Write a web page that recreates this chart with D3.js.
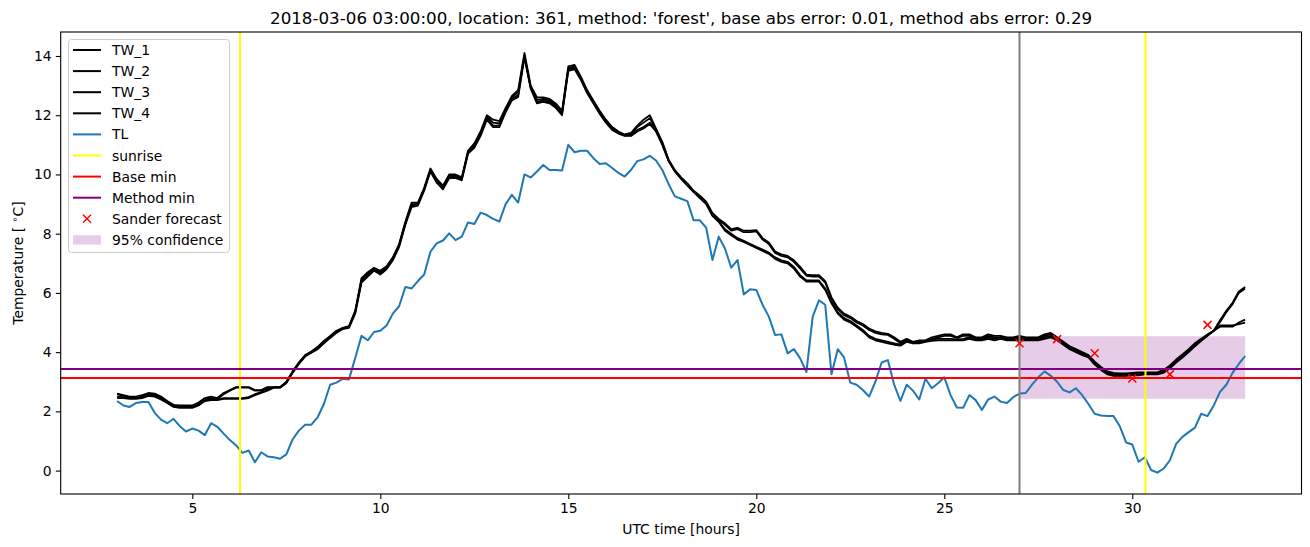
<!DOCTYPE html>
<html><head><meta charset="utf-8">
<script src="https://cdn.jsdelivr.net/npm/d3@7"></script>
<style>body{margin:0;background:#fff} svg{display:block} text{font-family:"DejaVu Sans",sans-serif;fill:#000}</style>
</head><body><svg id="chart" width="1310" height="547"></svg>
<script>
// ---- data (10-minute steps starting at 03:00 UTC, hours) ----
const startHour = 3, stepHours = 1/6;
const TW_1 = [
2.6,2.55,2.5,2.5,2.55,2.62, 2.6,2.5,2.35,2.22,2.2,2.2, 2.2,2.3,2.45,2.5,2.45,2.62,
2.72,2.82,2.82,2.82,2.72,2.72, 2.82,2.82,2.82,3.0,3.35,3.65, 3.9,4.02,4.18,4.38,4.55,4.72,
4.82,4.88,5.4,6.5,6.7,6.85, 6.75,6.9,7.2,7.65,8.4,9.05, 9.05,9.55,10.2,9.85,9.62,10.0,
10.0,9.9,10.8,11.05,11.45,12.0, 11.85,11.8,12.25,12.65,12.85,14.1, 13.0,12.6,12.6,12.55,12.4,12.15,
13.65,13.7,13.3,12.85,12.5,12.15, 11.85,11.6,11.45,11.35,11.4,11.65, 11.85,12.0,11.55,11.1,10.5,10.15,
9.9,9.7,9.45,9.28,9.08,8.7, 8.5,8.35,8.15,8.2,8.1,8.1, 8.12,7.85,7.7,7.4,7.3,7.25,
7.1,6.88,6.62,6.6,6.6,6.4, 5.85,5.5,5.3,5.2,5.05,4.95, 4.8,4.7,4.65,4.62,4.5,4.35,
4.45,4.35,4.4,4.4,4.5,4.55, 4.6,4.6,4.5,4.6,4.6,4.5, 4.5,4.6,4.55,4.55,4.5,4.5,
4.55,4.5,4.5,4.5,4.6,4.65, 4.5,4.35,4.2,4.1,4.0,3.9, 3.68,3.5,3.35,3.3,3.28,3.28,
3.3,3.32,3.32,3.32,3.32,3.4, 3.55,3.75,3.92,4.1,4.3,4.45, 4.6,4.72,5.08,5.4,5.67,6.05, 6.2];
const TW_2 = [
2.58,2.52,2.48,2.45,2.5,2.6, 2.55,2.45,2.32,2.2,2.15,2.15, 2.15,2.25,2.42,2.45,2.42,2.58,
2.7,2.8,2.8,2.8,2.7,2.7, 2.8,2.8,2.8,2.98,3.32,3.62, 3.88,4.0,4.15,4.35,4.52,4.7,
4.8,4.85,5.35,6.45,6.65,6.8, 6.7,6.85,7.15,7.6,8.35,9.0, 9.0,9.5,10.15,9.8,9.58,9.95,
9.95,9.85,10.75,11.0,11.4,11.95, 11.75,11.72,12.2,12.6,12.78,14.02, 12.95,12.52,12.55,12.5,12.35,12.1,
13.58,13.65,13.25,12.8,12.45,12.1, 11.8,11.55,11.42,11.32,11.35,11.6, 11.75,11.9,11.5,11.05,10.48,10.12,
9.88,9.66,9.42,9.25,9.05,8.65, 8.45,8.3,8.1,8.15,8.05,8.05, 8.08,7.8,7.65,7.35,7.25,7.2,
7.05,6.82,6.58,6.55,6.55,6.35, 5.8,5.45,5.25,5.15,5.0,4.9, 4.75,4.65,4.6,4.58,4.45,4.3,
4.4,4.3,4.35,4.38,4.45,4.5, 4.55,4.55,4.48,4.55,4.55,4.48, 4.45,4.55,4.5,4.5,4.45,4.45,
4.5,4.45,4.45,4.45,4.55,4.6, 4.45,4.3,4.15,4.05,3.95,3.88, 3.65,3.45,3.3,3.25,3.25,3.25,
3.28,3.3,3.3,3.3,3.3,3.38, 3.52,3.72,3.9,4.05,4.25,4.42, 4.58,4.72,5.02,5.35,5.62,6.0, 6.15];
const TW_3 = [
2.5,2.48,2.45,2.45,2.48,2.55, 2.52,2.42,2.3,2.18,2.15,2.15, 2.15,2.22,2.38,2.4,2.4,2.45,
2.45,2.45,2.45,2.48,2.58,2.65, 2.75,2.82,2.82,2.97,3.32,3.62, 3.88,4.0,4.12,4.32,4.5,4.68,
4.8,4.85,5.35,6.4,6.6,6.8, 6.68,6.85,7.15,7.6,8.35,8.95, 9.0,9.5,10.15,9.78,9.55,9.92,
9.92,9.85,10.75,10.95,11.35,11.9, 11.65,11.65,12.15,12.55,12.68,14.0, 12.92,12.45,12.5,12.45,12.3,12.05,
13.55,13.6,13.22,12.78,12.42,12.08, 11.78,11.52,11.4,11.32,11.32,11.5, 11.6,11.75,11.48,11.02,10.47,10.12,
9.87,9.65,9.42,9.22,9.02,8.62, 8.42,8.15,8.0,7.85,7.76,7.66, 7.56,7.46,7.36,7.2,7.1,7.05,
6.88,6.6,6.42,6.42,6.42,6.15, 5.7,5.35,5.15,5.05,4.9,4.75, 4.55,4.45,4.4,4.35,4.3,4.25,
4.38,4.33,4.33,4.38,4.42,4.45, 4.45,4.45,4.43,4.45,4.5,4.43, 4.43,4.5,4.45,4.5,4.43,4.43,
4.45,4.43,4.43,4.43,4.5,4.55, 4.43,4.28,4.12,4.02,3.92,3.85, 3.62,3.42,3.28,3.22,3.22,3.22,
3.25,3.25,3.28,3.28,3.28,3.35, 3.5,3.7,3.85,4.03,4.22,4.4, 4.57,4.72,4.9,4.9,4.9,4.95, 5.0];
const TW_4 = [
2.45,2.45,2.42,2.42,2.45,2.52, 2.5,2.4,2.28,2.15,2.12,2.12, 2.12,2.2,2.35,2.38,2.38,2.42,
2.42,2.42,2.42,2.45,2.55,2.62, 2.7,2.8,2.8,2.95,3.3,3.6, 3.85,3.98,4.1,4.3,4.48,4.65,
4.78,4.82,5.3,6.35,6.55,6.75, 6.62,6.8,7.1,7.55,8.3,8.9, 8.95,9.45,10.1,9.72,9.5,9.88,
9.88,9.8,10.7,10.9,11.3,11.85, 11.6,11.6,12.1,12.5,12.62,13.95, 12.9,12.4,12.45,12.4,12.25,12.0,
13.5,13.55,13.2,12.75,12.4,12.05, 11.75,11.5,11.38,11.3,11.3,11.45, 11.55,11.7,11.45,11.0,10.45,10.1,
9.85,9.62,9.4,9.2,9.0,8.6, 8.4,8.1,7.95,7.8,7.72,7.62, 7.52,7.42,7.32,7.15,7.05,7.0,
6.82,6.55,6.38,6.38,6.38,6.1, 5.65,5.3,5.1,5.0,4.86,4.7, 4.5,4.4,4.35,4.3,4.25,4.22,
4.35,4.3,4.3,4.35,4.38,4.4, 4.4,4.4,4.4,4.4,4.45,4.4, 4.4,4.45,4.4,4.45,4.4,4.4,
4.4,4.4,4.4,4.4,4.45,4.5, 4.4,4.25,4.1,4.0,3.9,3.82, 3.58,3.4,3.25,3.2,3.2,3.2,
3.22,3.22,3.25,3.25,3.25,3.3, 3.45,3.65,3.82,4.0,4.2,4.38, 4.55,4.72,4.86,4.86,4.86,5.0, 5.1];
const TL = [
2.35,2.2,2.15,2.28,2.32,2.32, 1.95,1.72,1.6,1.75,1.5,1.32, 1.42,1.35,1.2,1.6,1.48,1.25,
1.03,0.85,0.6,0.68,0.28,0.62, 0.48,0.45,0.4,0.55,1.05,1.35, 1.55,1.55,1.8,2.25,2.9,2.97,
3.1,3.08,3.8,4.55,4.4,4.68, 4.72,4.9,5.3,5.55,6.2,6.15, 6.4,6.62,7.39,7.67,7.77,8.01,
7.78,7.9,8.38,8.33,8.71,8.63, 8.5,8.41,9.0,9.31,9.05,10.0, 9.9,10.1,10.32,10.15,10.15,10.13,
11.0,10.75,10.8,10.8,10.55,10.35, 10.38,10.22,10.05,9.93,10.15,10.45, 10.51,10.63,10.47,10.15,9.68,9.26,
9.18,9.1,8.45,8.45,8.2,7.11, 7.9,7.5,6.85,7.11,5.95,6.12, 6.1,5.6,5.2,4.58,4.6,3.96,
4.1,3.79,3.33,5.2,5.75,5.6, 3.25,4.1,3.82,2.97,2.9,2.72, 2.5,3.0,3.65,3.73,2.9,2.35,
2.9,2.7,2.4,3.1,2.78,2.95, 3.15,2.55,2.13,2.12,2.55,2.38, 2.05,2.4,2.5,2.33,2.28,2.48,
2.6,2.62,2.9,3.15,3.35,3.2, 3.0,2.72,2.64,2.78,2.55,2.25, 1.92,1.86,1.84,1.84,1.5,0.95,
0.88,0.3,0.45,0.02,-0.07,0.07, 0.35,0.9,1.14,1.3,1.45,1.92, 1.84,2.2,2.66,2.9,3.3,3.6, 3.87];

const sunriseHours = [6.27, 30.35];
const forecastStartHour = 27.0;
const baseMin = 3.13;
const methodMin = 3.43;
const forecastHours = [27, 28, 29, 30, 31, 32];
const forecastValues = [4.30, 4.44, 3.96, 3.11, 3.25, 4.92];
const confHours = [27, 33];
const confLow = [2.43, 2.43];
const confHigh = [4.54, 4.54];
const xTicks = [5, 10, 15, 20, 25, 30];
const yTicks = [0, 2, 4, 6, 8, 10, 12, 14];
const legendLabels = ["TW_1","TW_2","TW_3","TW_4","TL","sunrise","Base min","Method min","Sander forecast","95% confidence"];
const titleText = "2018-03-06 03:00:00, location: 361, method: 'forest', base abs error: 0.01, method abs error: 0.29";

// ---- chart ----
const svg = d3.select("#chart");
const L = 60.7, R = 1301.5, T = 32, B = 494;
const x = d3.scaleLinear().domain([1.5, 34.5]).range([L, R]);
const y = d3.scaleLinear().domain([-0.79, 14.81]).range([B, T]);
const hourAt = i => startHour + i * stepHours;

svg.append("rect").attr("width", 1310).attr("height", 547).attr("fill", "#fff");

const plot = svg.append("g");
// confidence band
plot.append("path")
  .datum(confHours.map((h, i) => ({h, lo: confLow[i], hi: confHigh[i]})))
  .attr("d", d3.area().x(d => x(d.h)).y0(d => y(d.lo)).y1(d => y(d.hi)))
  .attr("fill", "rgb(230,204,230)");

const line = d3.line().x((d, i) => x(hourAt(i))).y(d => y(d));
[TW_1, TW_2, TW_3, TW_4].forEach(s => {
  plot.append("path").datum(s).attr("d", line)
    .attr("fill", "none").attr("stroke", "#000").attr("stroke-width", 1.8).attr("stroke-linejoin", "round");
});
plot.append("path").datum(TL).attr("d", line)
  .attr("fill", "none").attr("stroke", "#1f77b4").attr("stroke-width", 2).attr("stroke-linejoin", "round");

sunriseHours.forEach(h => {
  plot.append("line").attr("x1", x(h)).attr("x2", x(h)).attr("y1", T).attr("y2", B)
    .attr("stroke", "#ffff00").attr("stroke-width", 2);
});
plot.append("line").attr("x1", L).attr("x2", R).attr("y1", y(baseMin)).attr("y2", y(baseMin))
  .attr("stroke", "#ff0000").attr("stroke-width", 2);
plot.append("line").attr("x1", L).attr("x2", R).attr("y1", y(methodMin)).attr("y2", y(methodMin))
  .attr("stroke", "#800080").attr("stroke-width", 2);
plot.append("line").attr("x1", x(forecastStartHour)).attr("x2", x(forecastStartHour)).attr("y1", T).attr("y2", B)
  .attr("stroke", "#808080").attr("stroke-width", 2);

const crossPath = (cx, cy, r) => `M${cx-r},${cy-r}L${cx+r},${cy+r}M${cx-r},${cy+r}L${cx+r},${cy-r}`;
forecastHours.forEach((h, i) => {
  plot.append("path").attr("d", crossPath(x(h), y(forecastValues[i]), 4))
    .attr("stroke", "#ff0000").attr("stroke-width", 1.5).attr("fill", "none");
});

// axes
const fs = "13.9px";
const xAxis = svg.append("g").attr("transform", `translate(0,${B})`)
  .call(d3.axisBottom(x).tickValues(xTicks).tickSize(4.9).tickPadding(4.2).tickFormat(d3.format("d")));
const yAxis = svg.append("g").attr("transform", `translate(${L},0)`)
  .call(d3.axisLeft(y).tickValues(yTicks).tickSize(4.9).tickPadding(4.2).tickFormat(d3.format("d")));
[xAxis, yAxis].forEach(a => {
  a.select(".domain").remove();
  a.selectAll(".tick line").attr("stroke", "#000").attr("stroke-width", 1.1);
  a.selectAll(".tick text").attr("font-size", fs).attr("font-family", "DejaVu Sans").attr("fill", "#000");
});
svg.append("rect").attr("x", L).attr("y", T).attr("width", R - L).attr("height", B - T)
  .attr("fill", "none").attr("stroke", "#000").attr("stroke-width", 1.1);

// title & labels
svg.append("text").attr("x", (L + R) / 2).attr("y", 23.5).attr("text-anchor", "middle")
  .attr("font-size", "16.7px").text(titleText);
svg.append("text").attr("x", (L + R) / 2).attr("y", 534).attr("text-anchor", "middle")
  .attr("font-size", fs).text("UTC time [hours]");
const yl = svg.append("text").attr("transform", `translate(23,${(T + B) / 2}) rotate(-90)`)
  .attr("text-anchor", "middle").attr("font-size", fs);
yl.append("tspan").text("Temperature [ ");
yl.append("tspan").attr("font-size", "9.7px").attr("dy", "-5").text("∘");
yl.append("tspan").attr("dy", "5").text("C]");

// legend
const lg = svg.append("g");
lg.append("rect").attr("x", 68.5).attr("y", 39.5).attr("width", 161).attr("height", 213).attr("rx", 3)
  .attr("fill", "#fff").attr("fill-opacity", 0.8).attr("stroke", "#cccccc").attr("stroke-width", 1);
const lineColors = ["#000","#000","#000","#000","#1f77b4","#ffff00","#ff0000","#800080"];
legendLabels.forEach((lab, i) => {
  const cy = 50 + i * 21.1;
  if (i < 8) {
    lg.append("line").attr("x1", 73).attr("x2", 101).attr("y1", cy).attr("y2", cy)
      .attr("stroke", lineColors[i]).attr("stroke-width", 2);
  } else if (i === 8) {
    lg.append("path").attr("d", crossPath(87, cy, 4)).attr("stroke", "#ff0000").attr("stroke-width", 1.5).attr("fill", "none");
  } else {
    lg.append("rect").attr("x", 73).attr("y", cy - 4.6).attr("width", 28).attr("height", 9.2).attr("fill", "rgb(230,204,230)");
  }
  lg.append("text").attr("x", 112).attr("y", cy).attr("dy", "0.36em").attr("font-size", fs).text(lab);
});
</script></body></html>
